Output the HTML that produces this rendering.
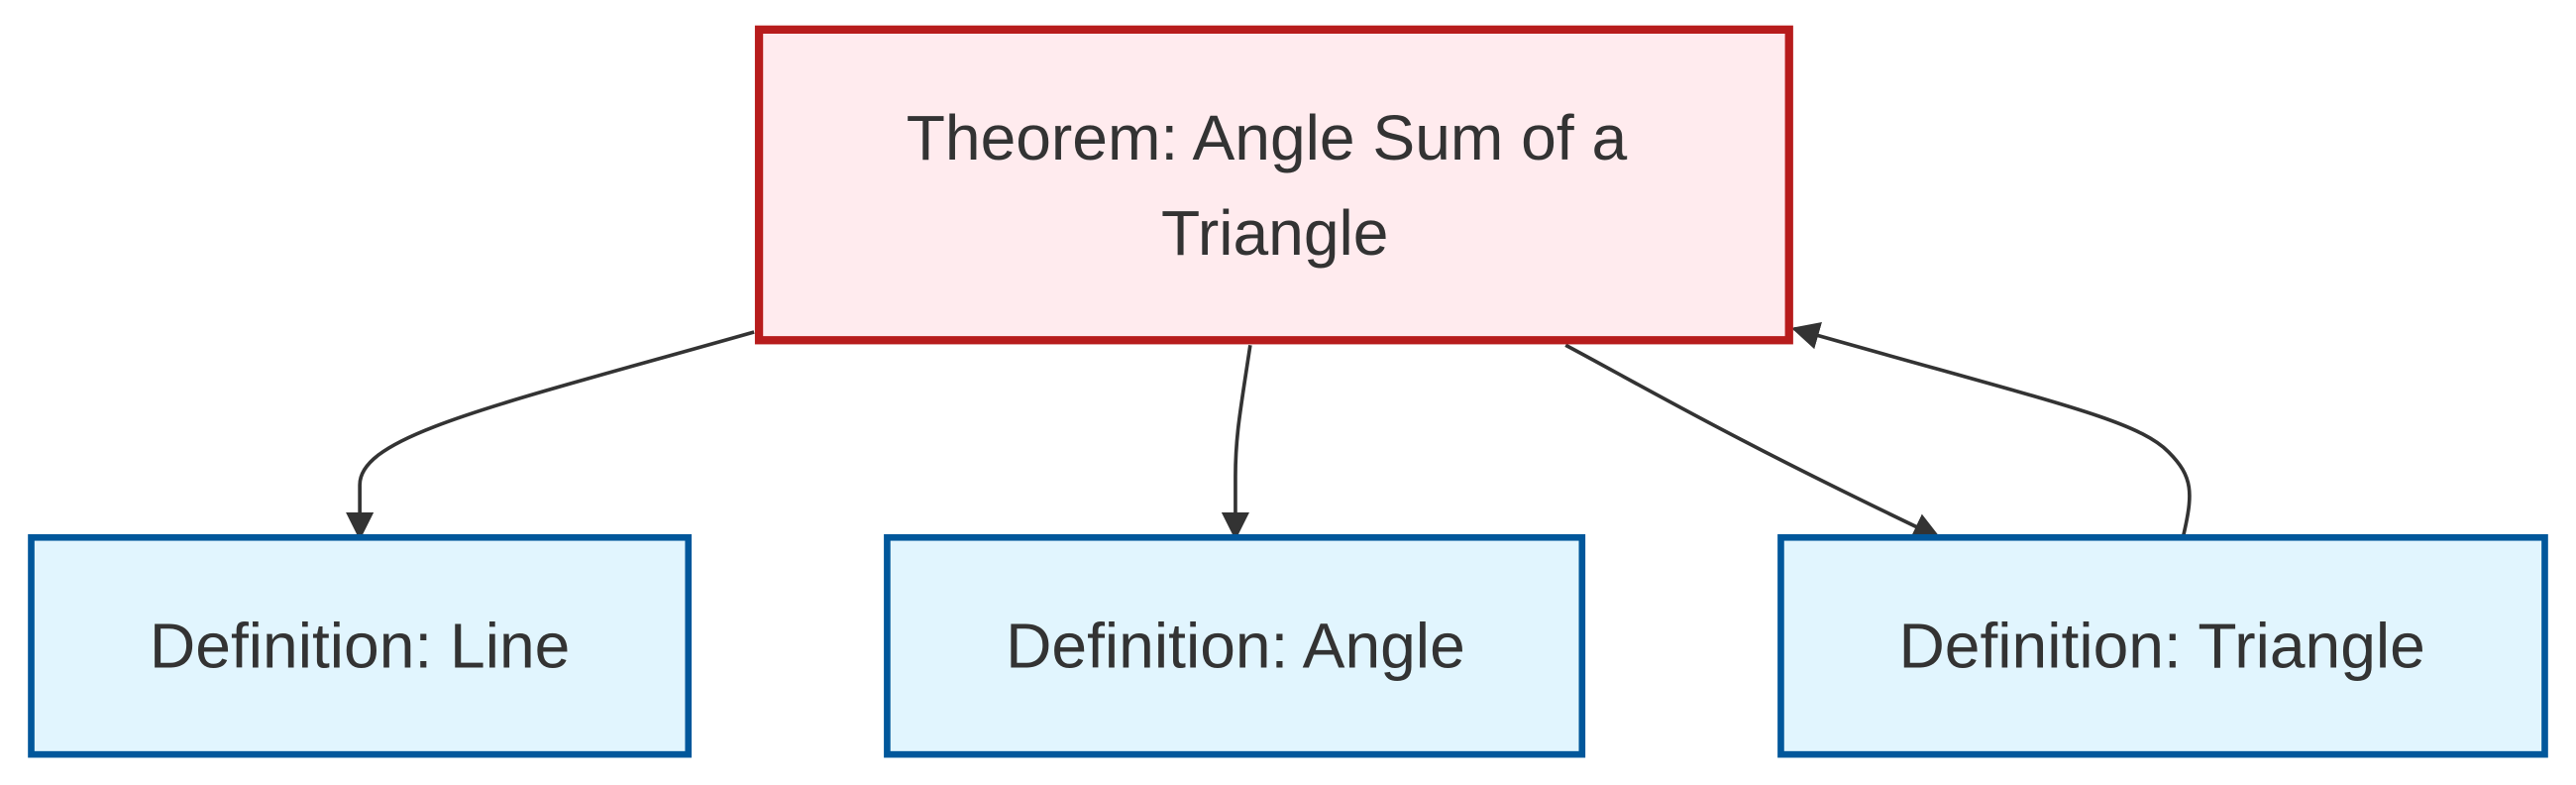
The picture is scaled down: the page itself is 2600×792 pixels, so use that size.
<!DOCTYPE html>
<html><head><meta charset="utf-8"><style>
html,body{margin:0;padding:0;background:#fff;}
svg{display:block;}
text{font-family:"Liberation Sans",Arial,sans-serif;fill:#333;font-size:38.7px;text-anchor:middle;}
</style></head><body>
<svg width="2600" height="792" viewBox="0 0 1568 477.6" preserveAspectRatio="none" xmlns="http://www.w3.org/2000/svg">
<defs>
<marker id="b" viewBox="0 0 10 10" refX="9" refY="5" markerWidth="17" markerHeight="17" markerUnits="userSpaceOnUse" orient="auto">
<path d="M0,0 L10,5 L0,10 z" fill="#333"/></marker>
</defs>
<g fill="none" stroke="#333" stroke-width="2.2">
<path d="M459,202 C300,247 219,265 219,295 L219,327" marker-end="url(#b)"/>
<path d="M761,210 C755,250 752,265 752,290 L752,327" marker-end="url(#b)"/>
<path d="M953,210 C1000,235 1050,265 1180,327" marker-end="url(#b)"/>
<path d="M1329,326 C1335,300 1335,290 1320,275 C1300,255 1250,245 1092,200" marker-end="url(#b)"/>
</g>
<rect x="462" y="18" width="627" height="189" fill="#ffebee" stroke="#b71c1c" stroke-width="5"/>
<text x="771" y="97">Theorem: Angle Sum of a</text>
<text x="776" y="155">Triangle</text>
<rect x="19" y="327" width="400" height="132" fill="#e1f5fe" stroke="#01579b" stroke-width="4"/>
<text x="219" y="406">Definition: Line</text>
<rect x="540" y="327" width="423" height="132" fill="#e1f5fe" stroke="#01579b" stroke-width="4"/>
<text x="752" y="406">Definition: Angle</text>
<rect x="1084" y="327" width="465" height="132" fill="#e1f5fe" stroke="#01579b" stroke-width="4"/>
<text x="1316" y="406">Definition: Triangle</text>
</svg>
</body></html>
